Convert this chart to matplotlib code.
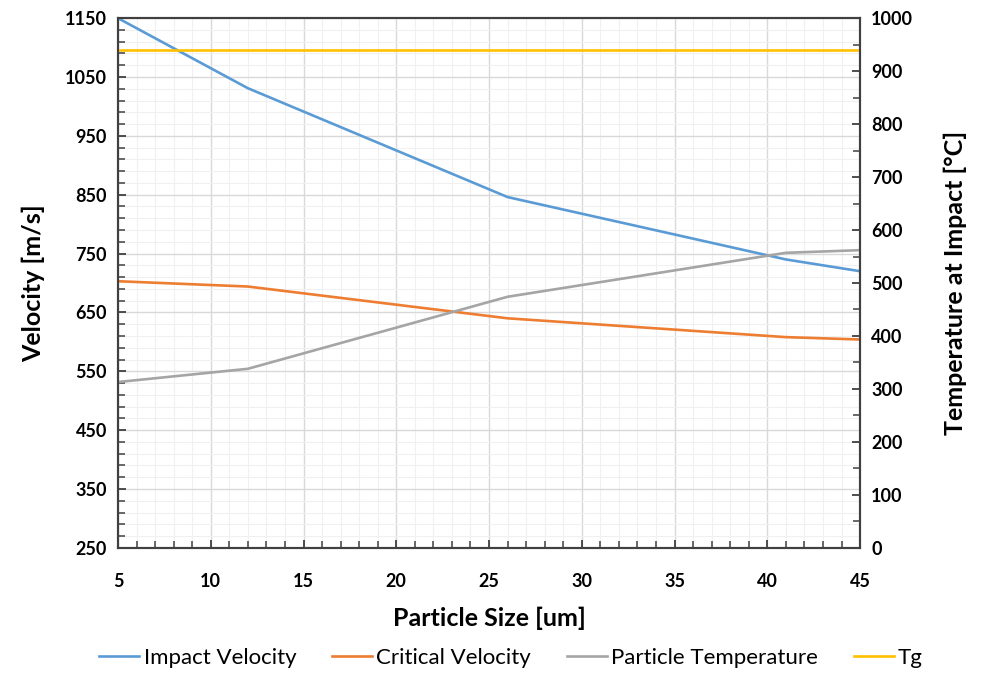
import numpy as np
import matplotlib.pyplot as plt
from matplotlib.ticker import MultipleLocator

plt.rcParams['font.family'] = ['Lato', 'DejaVu Sans']

size = [5, 12, 26, 41, 45]
impact_vel = [1150, 1031, 846, 740, 720]
critical_vel = [703, 694, 640, 608, 604]
particle_temp = [313, 338, 474, 557, 562]
tg = [940, 940, 940, 940, 940]

fig = plt.figure(figsize=(9.83, 6.73), dpi=100)
ax = fig.add_axes([0.120, 0.186, 0.755, 0.787])
ax2 = ax.twinx()

l1, = ax.plot(size, impact_vel, color='#5B9BD5', lw=1.9, label='Impact Velocity')
l2, = ax.plot(size, critical_vel, color='#ED7D31', lw=1.9, label='Critical Velocity')
l3, = ax2.plot(size, particle_temp, color='#A5A5A5', lw=1.9, label='Particle Temperature')
l4, = ax2.plot(size, tg, color='#FFC000', lw=1.9, label='Tg')

ax.set_xlim(5, 45)
ax.set_ylim(250, 1150)
ax2.set_ylim(0, 1000)
ax.xaxis.set_major_locator(MultipleLocator(5))
ax.xaxis.set_minor_locator(MultipleLocator(1))
ax.yaxis.set_major_locator(MultipleLocator(100, offset=50))
ax.yaxis.set_minor_locator(MultipleLocator(20, offset=10))
ax2.yaxis.set_major_locator(MultipleLocator(100))
ax2.yaxis.set_minor_locator(MultipleLocator(50))

ax.grid(which='major', color='#d9d9d9', lw=1.0)
ax.grid(which='minor', color='#f0f0f0', lw=0.8)
ax.set_axisbelow(True)

for a in (ax, ax2):
    for s in a.spines.values():
        s.set_color('#404040')
        s.set_linewidth(1.5)
    a.tick_params(which='major', direction='in', length=6, width=1.3, color='#404040', pad=8)
    a.tick_params(which='minor', direction='in', length=5, width=1.1, color='#404040')
    for lbl in a.get_xticklabels() + a.get_yticklabels():
        lbl.set_fontweight('bold')
        lbl.set_fontsize(13)
ax.tick_params(axis='x', pad=18)

ax.set_xlabel('Particle Size [um]', fontsize=18, fontweight='bold', labelpad=12)
ax.set_ylabel('Velocity [m/s]', fontsize=18, fontweight='bold', labelpad=14)
ax2.set_ylabel('Temperature at Impact [°C]', fontsize=18, fontweight='bold', labelpad=22)

fig.legend(handles=[l1, l2, l3, l4], loc='lower center', ncol=4, frameon=False,
           fontsize=16, handlelength=1.8, handletextpad=0.2, columnspacing=1.6,
           bbox_to_anchor=(0.52, -0.022))

fig.savefig('out.png', dpi=100)
